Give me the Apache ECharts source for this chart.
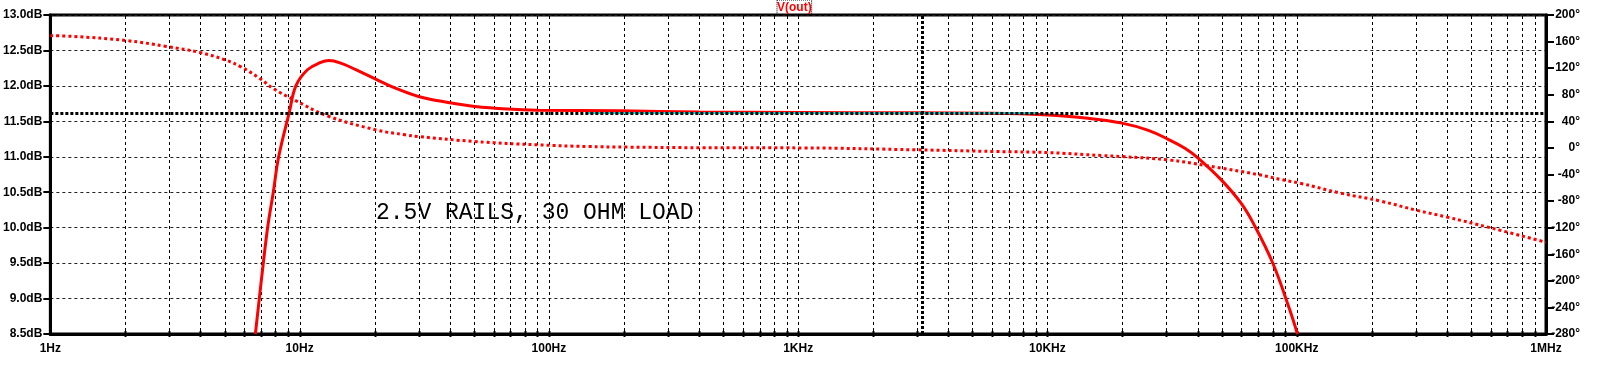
<!DOCTYPE html>
<html>
<head>
<meta charset="utf-8">
<script src="https://cdn.jsdelivr.net/npm/echarts@6/dist/echarts.min.js"></script>
<style>
html,body{margin:0;padding:0;background:#fff;}
#chart{width:1600px;height:366px;}
</style>
</head>
<body>
<div id="chart"></div>
<script>
// ---- data ----
const magFreq = [6.645, 6.89, 7.15, 7.44, 7.84, 8.24, 9.08, 9.66, 10.75, 12.15, 13.1, 14.8, 16.8, 20.2, 24.2, 30, 39.5, 50.5, 68.6, 90, 194, 400, 1000, 3000, 6000, 10100, 14200, 19900, 25400, 30500, 35600, 40200, 49800, 59800, 67500, 80200, 93300, 100700];
const magDb   = [8.5, 9.0, 9.5, 10.0, 10.5, 11.0, 11.62, 12.0, 12.228, 12.33, 12.358, 12.315, 12.228, 12.096, 11.969, 11.851, 11.766, 11.71, 11.673, 11.658, 11.648, 11.632, 11.625, 11.62, 11.615, 11.59, 11.546, 11.475, 11.373, 11.246, 11.119, 10.981, 10.674, 10.345, 10.039, 9.498, 8.863, 8.5];

const phaseFreq = [1, 1.24, 2.0, 2.92, 3.97, 5.0, 5.84, 6.89, 7.9, 9.5, 12.9, 20.2, 26.5, 30, 50.5, 90, 143, 207, 406, 1050, 3000, 6200, 10000, 16500, 19900, 30500, 43900, 70900, 87600, 103000, 150000, 217000, 304000, 400000, 596000, 1000000];
const phaseDeg  = [168.8, 167.8, 161.7, 152.7, 143.7, 132.7, 121.7, 105, 88.5, 72.4, 48.3, 27.2, 19.7, 17.1, 9.6, 4.6, 2.1, 1.2, 0.3, 0, -2.9, -5.4, -7, -11.5, -13, -18, -27, -40.5, -48, -53, -68, -80, -94, -104, -120, -142];

const xTickLabels = {1:'1Hz', 10:'10Hz', 100:'100Hz', 1000:'1KHz', 10000:'10KHz', 100000:'100KHz', 1000000:'1MHz'};
const cursorFreq = 3140;
const cursorDb = 11.616;
const xorStart = 143, xorEnd = 9000;
const noteText = '2.5V RAILS, 30 OHM LOAD';
const traceName = 'V(out)';

// grid frequencies: 1..9 x each decade (axis structure)
const gridFreqs = [];
for (let d = 0; d < 6; d++) {
  for (let m = 1; m <= 9; m++) {
    const f = m * Math.pow(10, d);
    if (f > 1 && f < 1e6) gridFreqs.push(f);
  }
}

const FONT = "'Liberation Sans', Arial, sans-serif";
const chart = echarts.init(document.getElementById('chart'), null, {renderer: 'canvas'});

const option = {
  animation: false,
  backgroundColor: '#fff',
  title: {
    text: '{a|' + traceName + '}',
    left: 777, top: 0, padding: 0,
    textStyle: {
      rich: {
        a: { color: '#ff0000', fontWeight: 'bold', fontSize: 12, fontFamily: FONT,
             borderColor: '#000', borderWidth: 1, borderType: 'dotted', padding: [2, 0, 1, 0] }
      }
    }
  },
  grid: {
    left: 43, top: 15, width: 1503, height: 319,
    show: true, borderColor: '#000', borderWidth: 3, backgroundColor: 'transparent'
  },
  xAxis: {
    type: 'log', logBase: 10, min: 1, max: 1e6, splitNumber: 6,
    axisLine: { show: true, onZero: false, lineStyle: { color: '#000', width: 3 } },
    axisTick: { show: false },
    splitLine: { show: false },
    axisLabel: {
      color: '#000', fontSize: 12, fontWeight: 'bold', fontFamily: FONT, margin: 9,
      formatter: v => xTickLabels[Math.round(v)] || ''
    }
  },
  yAxis: [
    {
      type: 'value', min: 8.5, max: 13, interval: 0.5, position: 'left',
      axisLine: { show: true, lineStyle: { color: '#000', width: 3 } },
      axisTick: { show: true, inside: false, length: 7, lineStyle: { color: '#000', width: 2 } },
      splitLine: { show: true, lineStyle: { color: '#222', width: 1, type: [3, 3] } },
      axisLabel: {
        color: '#000', fontSize: 12, fontWeight: 'bold', fontFamily: FONT, margin: 8,
        formatter: v => v.toFixed(1) + 'dB'
      }
    },
    {
      type: 'value', min: -280, max: 200, interval: 40, position: 'right',
      axisLine: { show: true, lineStyle: { color: '#000', width: 3 } },
      axisTick: { show: true, inside: false, length: 8, lineStyle: { color: '#000', width: 2 } },
      splitLine: { show: false },
      axisLabel: {
        color: '#000', fontSize: 12, fontWeight: 'bold', fontFamily: FONT, margin: 34, align: 'right',
        formatter: v => v + '°'
      }
    }
  ],
  graphic: [
    {
      type: 'text', left: 376, top: 201, z: 50,
      style: { text: noteText, fill: '#000', font: "23px 'Courier New', 'Liberation Mono', monospace" }
    }
  ],
  series: [
    {
      name: 'grid', type: 'custom', z: 1, silent: true,
      data: gridFreqs.map(f => [f, 8.5]),
      renderItem: function (params, api) {
        const f = api.value(0);
        const top = api.coord([f, 13]);
        const bot = api.coord([f, 8.5]);
        const x = Math.round(top[0]) + 0.5;
        return {
          type: 'group',
          children: [
            { type: 'line', shape: { x1: x, y1: top[1] + 1, x2: x, y2: bot[1] - 1 },
              style: { stroke: '#000', lineWidth: 1, lineDash: [3, 3] } },
            { type: 'line', shape: { x1: x, y1: bot[1] - 3, x2: x, y2: bot[1] + 3 },
              style: { stroke: '#000', lineWidth: 2 } }
          ]
        };
      }
    },
    {
      name: 'Phase', type: 'line', yAxisIndex: 1, z: 3,
      data: phaseFreq.map((f, i) => [f, phaseDeg[i]]),
      showSymbol: false, smooth: 0.4,
      lineStyle: { color: '#ff0000', width: 3, type: [3, 3], cap: 'butt' }
    },
    {
      name: 'Magnitude', type: 'line', yAxisIndex: 0, z: 4,
      data: magFreq.map((f, i) => [f, magDb[i]]),
      showSymbol: false, smooth: 0.4,
      lineStyle: { color: '#ff0000', width: 3 },
      markLine: {
        silent: true, symbol: 'none', label: { show: false }, animation: false,
        data: [
          [ { coord: [xorStart, cursorDb], lineStyle: { color: '#00e5e5', width: 2, type: 'solid' } },
            { coord: [xorEnd, cursorDb] } ],
          { yAxis: cursorDb, lineStyle: { color: '#000', width: 3, type: [3, 2] } },
          { xAxis: cursorFreq, lineStyle: { color: '#000', width: 3, type: [3, 2] } }
        ]
      }
    }
  ]
};
chart.setOption(option);
</script>
</body>
</html>
